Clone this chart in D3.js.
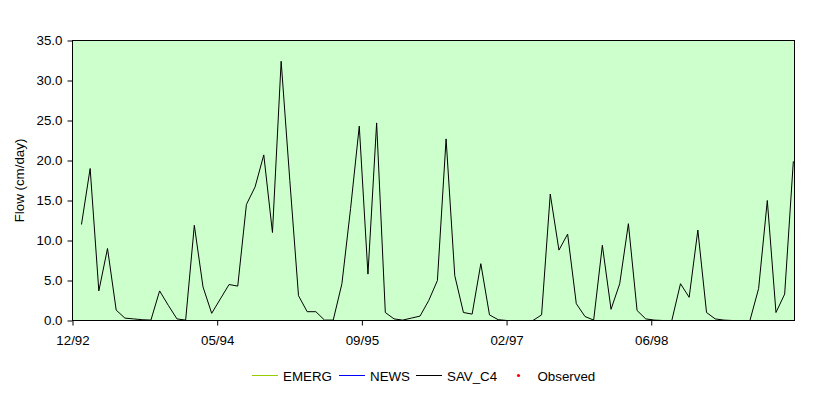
<!DOCTYPE html>
<html>
<head>
<meta charset="utf-8">
<script src="https://cdn.jsdelivr.net/npm/d3@7"></script>
<style>
  body { margin: 0; background: #fff; }
  svg { display: block; font-family: "Liberation Sans", Arial, sans-serif; }
</style>
</head>
<body>
<div id="wrapper"></div>
<script>
// samples every 30 days, first one at the end of Jan 1993
const firstDate = "1993-01-31";
const stepDays = 30;

// SAV_C4 flow, cm/day
const savC4 = [
  12.0, 19.0, 3.7, 9.0, 1.3, 0.3, 0.2, 0.1, 0.05, 3.7,
  1.9, 0.2, 0.05, 11.9, 4.2, 0.9, 2.7, 4.5, 4.3, 14.5,
  16.7, 20.7, 11.0, 32.4, 17.5, 3.1, 1.1, 1.1, 0.05, 0.05,
  4.6, 14.0, 24.3, 5.8, 24.7, 1.0, 0.2, 0.05, 0.3, 0.55,
  2.5, 5.0, 22.7, 5.6, 1.0, 0.8, 7.1, 0.7, 0.1, 0,
  0, 0, 0, 0.7, 15.8, 8.8, 10.8, 2.1, 0.5, 0.05,
  9.4, 1.4, 4.6, 12.1, 1.25, 0.2, 0.05, 0, 0, 4.6,
  2.9, 11.3, 1.0, 0.2, 0.05, 0, 0, 0, 4.0, 15.0,
  1.0, 3.3, 19.9
];

// axis
const xDomain = ["1992-12-31", "1999-10-31"];
const xTickDates = ["1992-12-31", "1994-05-15", "1995-09-27", "1997-02-08", "1998-06-23"];
const yTicks = [0, 5, 10, 15, 20, 25, 30, 35];

// legend
const legendNames = ["EMERG", "NEWS", "SAV_C4", "Observed"];
const legendColors = ["#99cc00", "#0000ff", "#000000", "#ff0000"];

const fontSize = "13.33px";

const parseDate = d3.utcParse("%Y-%m-%d");
const dataset = savC4.map((v, i) => ({
  date: d3.utcDay.offset(parseDate(firstDate), i * stepDays),
  value: v,
}));

const xAccessor = (d) => d.date;
const yAccessor = (d) => d.value;

let dimensions = {
  width: 830,
  height: 397,
  margin: { top: 40.5, right: 35.5, bottom: 76.5, left: 72.5 },
};
dimensions.boundedWidth = dimensions.width - dimensions.margin.left - dimensions.margin.right;
dimensions.boundedHeight = dimensions.height - dimensions.margin.top - dimensions.margin.bottom;

const wrapper = d3.select("#wrapper")
  .append("svg")
  .attr("width", dimensions.width)
  .attr("height", dimensions.height);

const bounds = wrapper.append("g")
  .attr("transform", `translate(${dimensions.margin.left}, ${dimensions.margin.top})`);

const xScale = d3.scaleUtc()
  .domain(xDomain.map(parseDate))
  .range([0, dimensions.boundedWidth]);

const yScale = d3.scaleLinear()
  .domain([0, 35])
  .range([dimensions.boundedHeight, 0]);

// plot area
bounds.append("rect")
  .attr("width", dimensions.boundedWidth)
  .attr("height", dimensions.boundedHeight)
  .attr("fill", "#ccffcc");

const lineGenerator = d3.line()
  .x((d) => xScale(xAccessor(d)))
  .y((d) => yScale(yAccessor(d)));

bounds.append("path")
  .attr("d", lineGenerator(dataset))
  .attr("fill", "none")
  .attr("stroke", "#000")
  .attr("stroke-width", 1);

// frame
bounds.append("rect")
  .attr("width", dimensions.boundedWidth)
  .attr("height", dimensions.boundedHeight)
  .attr("fill", "none")
  .attr("stroke", "#000")
  .attr("stroke-width", 1);

// axes
const yAxisGenerator = d3.axisLeft(yScale)
  .tickValues(yTicks)
  .tickFormat(d3.format(".1f"))
  .tickSize(5)
  .tickPadding(5);

const yAxis = bounds.append("g").call(yAxisGenerator);

const xAxisGenerator = d3.axisBottom(xScale)
  .tickValues(xTickDates.map(parseDate))
  .tickFormat(d3.utcFormat("%m/%y"))
  .tickSize(5)
  .tickPadding(10);

const xAxis = bounds.append("g")
  .attr("transform", `translate(0, ${dimensions.boundedHeight})`)
  .call(xAxisGenerator);

[xAxis, yAxis].forEach((ax) => {
  ax.select(".domain").remove();
  ax.selectAll("line").attr("stroke", "#000");
  ax.selectAll("text")
    .attr("fill", "#000")
    .style("font-size", fontSize)
    .style("font-family", '"Liberation Sans", Arial, sans-serif');
});

// y axis title
wrapper.append("text")
  .attr("transform", `translate(24, ${dimensions.margin.top + dimensions.boundedHeight / 2}) rotate(-90)`)
  .attr("text-anchor", "middle")
  .style("font-size", fontSize)
  .text("Flow (cm/day)");

// legend
const legendX = [252, 339, 416, 518.5];
const legend = wrapper.append("g")
  .attr("transform", "translate(0, 375)");

legendNames.forEach((name, i) => {
  const g = legend.append("g").attr("transform", `translate(${legendX[i]}, 0)`);
  if (name === "Observed") {
    g.append("circle")
      .attr("cx", 0)
      .attr("cy", 0.5)
      .attr("r", 1.6)
      .attr("fill", legendColors[i]);
    g.append("text")
      .attr("x", 19)
      .attr("y", 5.5)
      .style("font-size", fontSize)
      .text(name);
  } else {
    g.append("rect")
      .attr("x", 0)
      .attr("y", 0)
      .attr("width", 26)
      .attr("height", 1)
      .attr("fill", legendColors[i]);
    g.append("text")
      .attr("x", 31)
      .attr("y", 5.5)
      .style("font-size", fontSize)
      .text(name);
  }
});
</script>
</body>
</html>
